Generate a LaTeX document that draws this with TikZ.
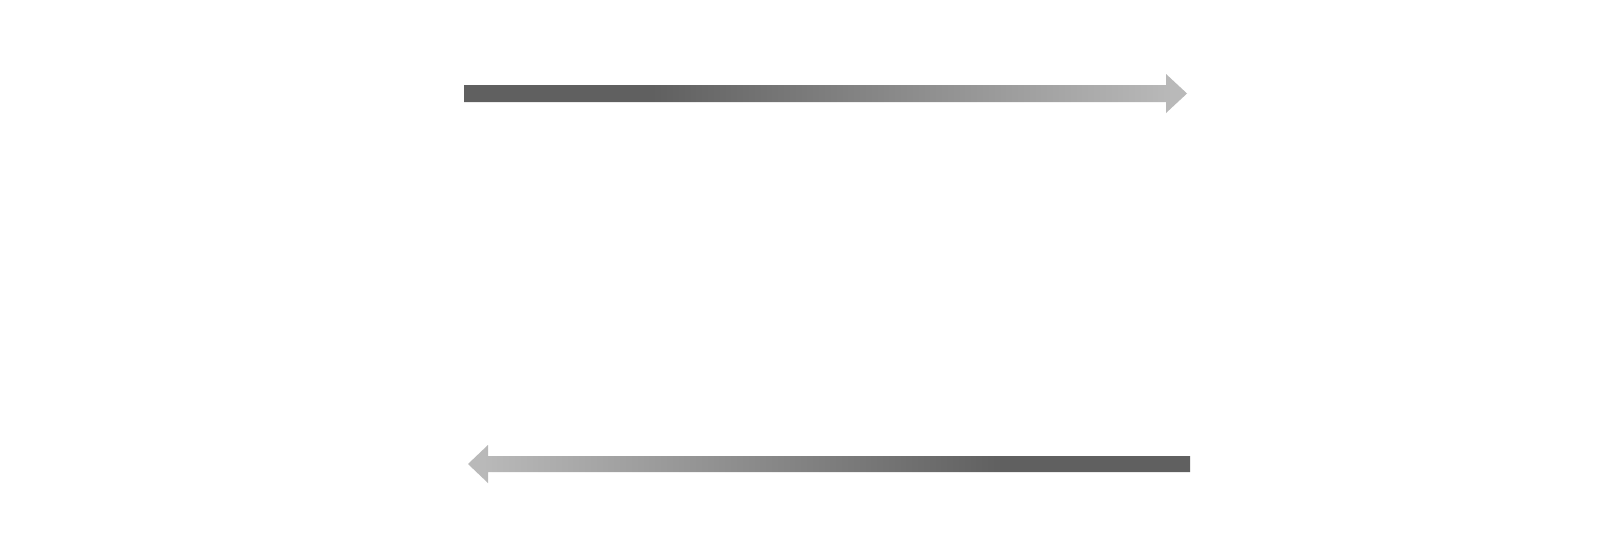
\documentclass[tikz,border=0pt]{standalone}
\usepackage{tikz}
\usetikzlibrary{calc}
\definecolor{gris_f}{HTML}{606060}
\definecolor{gris_c}{HTML}{B9B9B9}
\pgfdeclarehorizontalshading{degrade}{100bp}{color(0bp)=(gris_f); color(25bp)=(gris_f); color(38bp)=(gris_f); color(74bp)=(gris_c); color(100bp)=(gris_c)}
\tikzset{
fleche_d/.style = {shading=degrade, shading angle=0},% fleche vers la droite
fleche_g/.style = {shading=degrade, shading angle=180}% fleche vers la gauche
}

\begin{document}
\begin{tikzpicture}[x=0.02cm,y=-0.02cm]
	\useasboundingbox[fill=white] (0,0) rectangle (1600,558);
	\coordinate (haut_a) at (464,93.5);
	\coordinate (haut_b) at (1187,93.5);
	\coordinate (bas_a) at (1190,464);
	\coordinate (bas_b) at (468,464);
	% fleche du haut
	\shade[fleche_d] ($(haut_a)+(0,-8.5)$) -- ($(haut_b)+(-21,-8.5)$) -- ($(haut_b)+(-21,-19.5)$)
	  -- (haut_b) -- ($(haut_b)+(-21,19.5)$) -- ($(haut_b)+(-21,8.5)$) -- ($(haut_a)+(0,8.5)$) -- cycle;
	% fleche du bas
	\shade[fleche_g] ($(bas_a)+(0,-8)$) -- ($(bas_b)+(20,-8)$) -- ($(bas_b)+(20,-19)$)
	  -- (bas_b) -- ($(bas_b)+(20,19)$) -- ($(bas_b)+(20,8)$) -- ($(bas_a)+(0,8)$) -- cycle;
\end{tikzpicture}
\end{document}
